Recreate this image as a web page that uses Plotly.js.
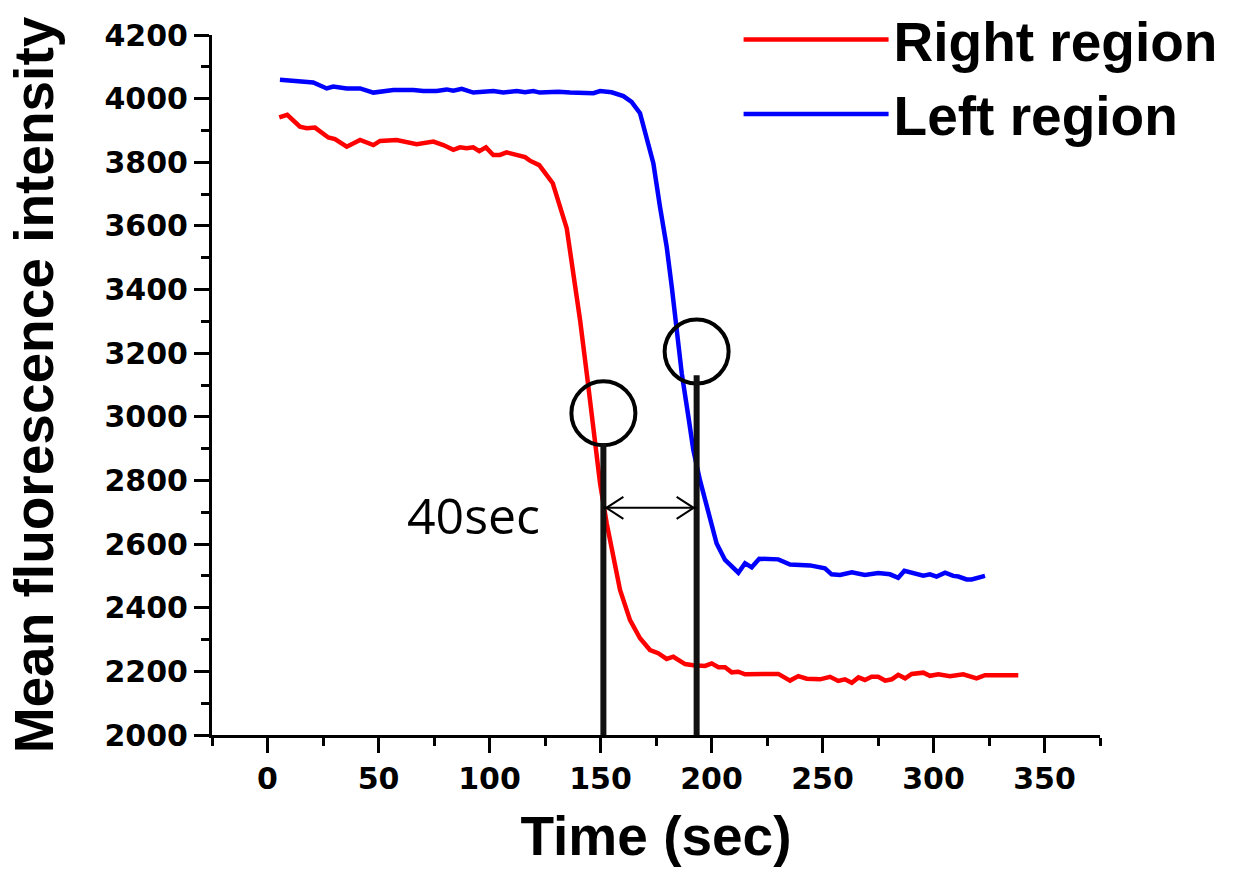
<!DOCTYPE html>
<html><head><meta charset="utf-8">
<script src="https://cdn.plot.ly/plotly-3.0.1.min.js"></script>
<style>html,body{margin:0;padding:0;background:#fff}#chart{width:1236px;height:886px}</style>
</head><body><div id="chart"></div>
<script>
// ---- data ----
const seriesNames = ['Right region', 'Left region'];
const seriesColors = ['#ff0000', '#0000ff'];

const rightTime = [5.3, 8.9, 14.6, 17.7, 21.4, 27.4, 30.4, 35.7, 41.7, 47.7, 50.7, 58.2, 67.2, 74.7, 79.2, 83.7, 86.7, 89.7, 92.7, 95.4, 98.4, 101.7, 104.7, 107.7, 116, 118.2, 122.4, 128.5, 134.8, 137.7, 140.8, 143.8, 146.8, 149.8, 152.8, 155.8, 158.8, 163.3, 167.8, 172.3, 176, 179.8, 182.8, 188.1, 191.8, 197.1, 200.1, 203.1, 206.1, 209.1, 212.1, 215.1, 221.8, 230.1, 235.4, 239.1, 242.9, 248.9, 253.4, 257.1, 260.1, 263.2, 266.2, 269.1, 272.1, 275.1, 278.2, 281.2, 284.1, 287.2, 290.2, 295.4, 298.4, 302.2, 307.4, 313.4, 319.4, 323.2, 338.2];
const rightIntensity = [3941, 3949, 3912, 3907, 3909, 3878, 3873, 3849, 3870, 3854, 3867, 3870, 3857, 3865, 3854, 3839, 3847, 3844, 3847, 3835, 3847, 3823, 3823, 3831, 3816, 3805, 3791, 3734, 3592, 3461, 3304, 3137, 2969, 2791, 2665, 2560, 2456, 2361, 2304, 2267, 2257, 2239, 2246, 2223, 2219, 2217, 2225, 2213, 2213, 2197, 2199, 2191, 2193, 2192, 2171, 2185, 2177, 2175, 2183, 2170, 2175, 2164, 2181, 2173, 2183, 2183, 2171, 2175, 2189, 2178, 2192, 2196, 2186, 2191, 2185, 2191, 2178, 2188, 2188];

const leftTime = [5.6, 10.1, 14.6, 20.6, 26.7, 29.6, 35.7, 41.7, 47.7, 52.9, 56.7, 65.7, 70.2, 76.2, 80.7, 83.7, 87.5, 92.7, 101.7, 106.2, 112.3, 116, 119.7, 122.7, 131, 136.3, 146.8, 149.8, 155, 160.3, 164, 167.8, 170.8, 173.8, 176.8, 179.8, 182.1, 184.3, 186.6, 189.6, 191.8, 194.8, 198.6, 202.3, 206.1, 212.1, 215.1, 218.1, 221.5, 230.1, 235.4, 244.4, 251.1, 254.1, 257.9, 263.2, 269.1, 275.1, 280.4, 284.1, 286.9, 295.4, 298.4, 301.4, 305.2, 308.9, 311.2, 314.9, 317.2, 323.2];
const leftIntensity = [4059, 4056, 4053, 4051, 4032, 4038, 4032, 4032, 4019, 4022, 4027, 4027, 4024, 4024, 4029, 4025, 4031, 4019, 4024, 4019, 4024, 4020, 4024, 4019, 4022, 4019, 4017, 4024, 4020, 4008, 3990, 3954, 3880, 3797, 3660, 3535, 3409, 3262, 3137, 3000, 2896, 2801, 2697, 2602, 2550, 2510, 2540, 2527, 2554, 2552, 2536, 2533, 2524, 2505, 2503, 2511, 2503, 2509, 2505, 2494, 2516, 2501, 2505, 2498, 2510, 2500, 2498, 2489, 2489, 2500];

const xTickVals = [0, 50, 100, 150, 200, 250, 300, 350];
const xMinorVals = [-25, 25, 75, 125, 175, 225, 275, 325, 375];
const yTickVals = [2000, 2200, 2400, 2600, 2800, 3000, 3200, 3400, 3600, 3800, 4000, 4200];
const yMinorVals = [2100, 2300, 2500, 2700, 2900, 3100, 3300, 3500, 3700, 3900, 4100];
const xRange = [-25, 375];
const yRange = [2000, 4200];

// annotation marks (threshold crossings and the delay between them)
const crossTimes = [151.3, 193.3];
const circleIntensities = [3011, 3205];
const markerTopIntensities = [2918, 3131];
const arrowIntensity = 2714;
const delayLabel = '40sec';
const delayLabelTime = 93;
const delayLabelIntensity = 2690;

// ---- figure ----
const boldFont = {family: 'Liberation Sans, Arial, sans-serif', size: 55, color: '#000', weight: 'bold'};
const tickFont = {family: 'DejaVu Sans, sans-serif', size: 30, color: '#000', weight: 'bold'};

const traces = [
  {x: rightTime, y: rightIntensity, name: seriesNames[0], type: 'scatter', mode: 'lines', line: {color: seriesColors[0], width: 4.5}},
  {x: leftTime, y: leftIntensity, name: seriesNames[1], type: 'scatter', mode: 'lines', line: {color: seriesColors[1], width: 4.5}}
];

const shapes = [];
crossTimes.forEach((t, i) => {
  shapes.push({type: 'circle', xref: 'x', yref: 'y', xsizemode: 'pixel', ysizemode: 'pixel',
    xanchor: t, yanchor: circleIntensities[i], x0: -32, x1: 32, y0: -32, y1: 32,
    line: {color: '#000', width: 4}, fillcolor: 'rgba(0,0,0,0)'});
  shapes.push({type: 'line', xref: 'x', yref: 'y', x0: t, x1: t, y0: yRange[0], y1: markerTopIntensities[i],
    line: {color: '#111', width: 6}});
});
shapes.push({type: 'line', xref: 'x', yref: 'y', x0: crossTimes[0], x1: crossTimes[1], y0: arrowIntensity, y1: arrowIntensity,
  line: {color: '#000', width: 2}});
shapes.push({type: 'path', xref: 'x', yref: 'y', xsizemode: 'pixel', ysizemode: 'pixel',
  xanchor: crossTimes[0], yanchor: arrowIntensity, path: 'M20,11 L3,0 L20,-11', line: {color: '#000', width: 2}});
shapes.push({type: 'path', xref: 'x', yref: 'y', xsizemode: 'pixel', ysizemode: 'pixel',
  xanchor: crossTimes[1], yanchor: arrowIntensity, path: 'M-20,11 L-3,0 L-20,-11', line: {color: '#000', width: 2}});

const axisCommon = {
  showline: true, linecolor: '#000', linewidth: 3, mirror: false,
  ticks: 'outside', ticklen: 15, tickwidth: 3, tickcolor: '#000',
  showgrid: false, zeroline: false, tickfont: tickFont, fixedrange: true
};

const layout = {
  width: 1236, height: 886,
  margin: {l: 212, r: 136, t: 35, b: 151, autoexpand: false},
  paper_bgcolor: '#fff', plot_bgcolor: '#fff',
  showlegend: true,
  legend: {x: 0.593, y: 1.054, xanchor: 'left', yanchor: 'top', font: boldFont,
    itemwidth: 145, bgcolor: 'rgba(0,0,0,0)', tracegroupgap: 0},
  xaxis: Object.assign({}, axisCommon, {
    range: xRange, tickmode: 'array', tickvals: xTickVals,
    minor: {tickmode: 'array', tickvals: xMinorVals, ticks: 'outside', ticklen: 8, tickwidth: 3, tickcolor: '#000', showgrid: false},
    title: {text: 'Time (sec)', font: boldFont, standoff: 22}
  }),
  yaxis: Object.assign({}, axisCommon, {
    range: yRange, tickmode: 'array', tickvals: yTickVals,
    minor: {tickmode: 'array', tickvals: yMinorVals, ticks: 'outside', ticklen: 8, tickwidth: 3, tickcolor: '#000', showgrid: false},
    title: {text: 'Mean fluorescence intensity', font: boldFont, standoff: 34}
  }),
  shapes: shapes,
  annotations: [{x: delayLabelTime, y: delayLabelIntensity, xref: 'x', yref: 'y', text: delayLabel, showarrow: false,
    font: {family: 'Open Sans, Noto Sans, sans-serif', size: 50, color: '#000'}}]
};

Plotly.newPlot('chart', traces, layout, {displayModeBar: false, staticPlot: true});
</script>
</body></html>
